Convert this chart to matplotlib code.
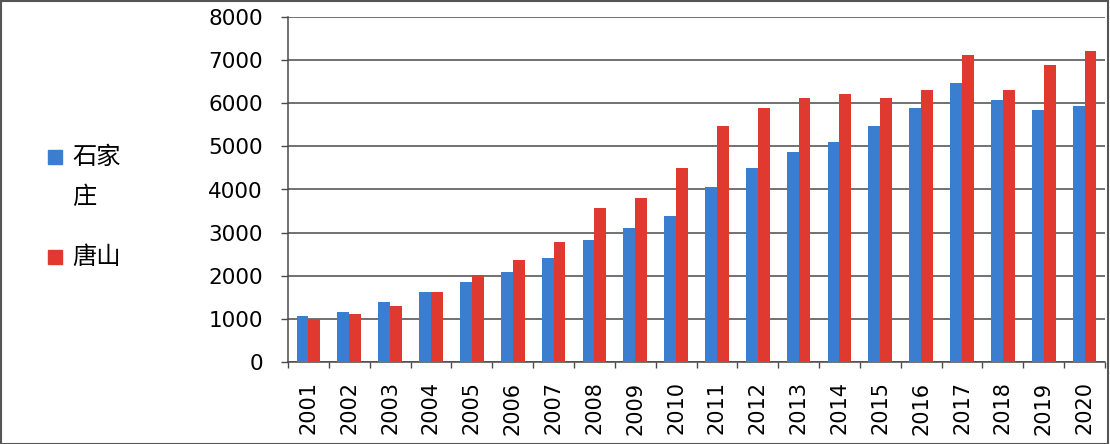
import numpy as np
import matplotlib
matplotlib.use("Agg")
import matplotlib.pyplot as plt
from matplotlib.patches import Rectangle

plt.rcParams['font.family'] = ['DejaVu Sans', 'Noto Sans CJK SC']

years = [str(y) for y in range(2001, 2021)]
sjz = [1065, 1157, 1389, 1620, 1852, 2083, 2407, 2824, 3102, 3380,
       4066, 4491, 4861, 5093, 5463, 5880, 6481, 6065, 5833, 5926]
ts = [1003, 1111, 1296, 1620, 2022, 2361, 2778, 3565, 3796, 4491,
      5463, 5880, 6111, 6204, 6111, 6304, 7130, 6304, 6898, 7222]
series_names = ["石家\n庄", "唐山"]
yticks = [0, 1000, 2000, 3000, 4000, 5000, 6000, 7000, 8000]

blue = "#3b7dcf"
red = "#e0392f"
grid_c = "#4a4a4a"

W, H = 1110, 444
fig = plt.figure(figsize=(W / 100, H / 100), dpi=100)
ax = fig.add_axes([288 / W, 1 - 362 / H, (1105 - 288) / W, (362 - 17) / H])

x = np.arange(len(years))
w = 0.29
ax.bar(x - w / 2, sjz, w, color=blue, label=series_names[0], zorder=3)
ax.bar(x + w / 2, ts, w, color=red, label=series_names[1], zorder=3)

ax.set_xlim(-0.5, len(years) - 0.5)
ax.set_ylim(0, 8000)
ax.set_yticks(yticks)
ax.set_yticklabels([str(v) for v in yticks], fontsize=15.5)
ax.yaxis.grid(True, color=grid_c, linewidth=1.1, zorder=0)
ax.tick_params(axis="y", length=5, width=1, color=grid_c, pad=13)

ax.set_xticks(x)
ax.set_xticklabels(years, rotation=90, fontsize=15)
ax.tick_params(axis="x", which="major", length=0, pad=14)
ax.set_xticks(np.arange(-0.5, len(years)), minor=True)
ax.tick_params(axis="x", which="minor", length=4.5, width=1, color=grid_c)

for s in ["top", "right"]:
    ax.spines[s].set_visible(False)
for s in ["left", "bottom"]:
    ax.spines[s].set_color(grid_c)
    ax.spines[s].set_linewidth(1.1)

# legend drawn by hand so the marker sits beside the first line of a wrapped name
cjk = ["Noto Sans CJK SC", "DejaVu Sans"]
for name, col, top in zip(series_names, [blue, red], [150, 250]):
    fig.patches.append(Rectangle((48 / W, 1 - (top + 14) / H), 14 / W, 14 / H,
                                 transform=fig.transFigure, color=col))
    fig.text(72 / W, 1 - (top - 6) / H, name, family=cjk, fontsize=17.5,
             va="top", ha="left", linespacing=1.7)

fig.patches.append(Rectangle((0.001, 0.001), 0.997, 0.997, transform=fig.transFigure,
                             fill=False, edgecolor="#555555", linewidth=1.5))

fig.savefig("out.png", dpi=100, facecolor="white")
